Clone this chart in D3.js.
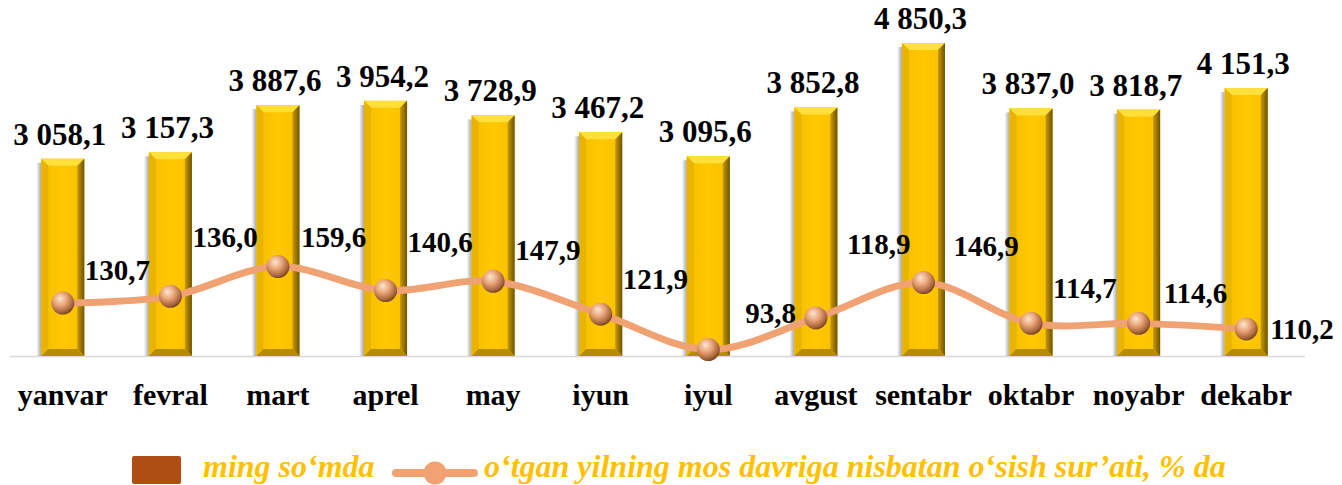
<!DOCTYPE html>
<html>
<head>
<meta charset="utf-8">
<script src="https://cdn.jsdelivr.net/npm/d3@7"></script>
</head>
<body style="margin:0">
<div id="chart"></div>
<script>
// data
var months = ["yanvar", "fevral", "mart", "aprel", "may", "iyun", "iyul", "avgust", "sentabr", "oktabr", "noyabr", "dekabr"];
var amounts = [3058.1, 3157.3, 3887.6, 3954.2, 3728.9, 3467.2, 3095.6, 3852.8, 4850.3, 3837.0, 3818.7, 4151.3];
var growth = [130.7, 136.0, 159.6, 140.6, 147.9, 121.9, 93.8, 118.9, 146.9, 114.7, 114.6, 110.2];
var legendBar = "ming so‘mda";
var legendLine = "o‘tgan yilning mos davriga nisbatan o‘sish sur’ati, % da";

// label nudges for the line labels (dx, dy from point)
var lineLabelPos = [[22, -23], [22, -49], [23, -20], [22, -39], [22, -21], [22, -25],
                    [37, -27], [31, -64], [30, -27], [22, -25], [25, -20], [24, 10]];

var svgWidth = 1342;
var svgHeight = 485;
var baseY = 356;
var serif = "Liberation Serif";

var fmt = function(v) {
  var s = v.toFixed(1).replace(".", ",");
  var parts = s.split(",");
  var intPart = parts[0].replace(/\B(?=(\d{3})+(?!\d))/g, " ");
  return intPart + "," + parts[1];
};

var svg = d3.select("#chart")
  .append("svg")
  .attr("width", svgWidth)
  .attr("height", svgHeight);

var defs = svg.append("defs");

var faceGrad = defs.append("linearGradient").attr("id", "face")
  .attr("x1", "0").attr("x2", "1").attr("y1", "0").attr("y2", "0");
faceGrad.append("stop").attr("offset", "0%").attr("stop-color", "#F5BE00");
faceGrad.append("stop").attr("offset", "50%").attr("stop-color", "#FFC800");
faceGrad.append("stop").attr("offset", "100%").attr("stop-color", "#F7C000");

var rightGrad = defs.append("linearGradient").attr("id", "rightEdge")
  .attr("x1", "0").attr("x2", "1").attr("y1", "0").attr("y2", "0");
rightGrad.append("stop").attr("offset", "0%").attr("stop-color", "#C99A00");
rightGrad.append("stop").attr("offset", "100%").attr("stop-color", "#6E5200");

var shadowGrad = defs.append("linearGradient").attr("id", "shadowGrad")
  .attr("x1", "0").attr("x2", "1").attr("y1", "0").attr("y2", "0");
shadowGrad.append("stop").attr("offset", "0%").attr("stop-color", "#000").attr("stop-opacity", 0);
shadowGrad.append("stop").attr("offset", "100%").attr("stop-color", "#000").attr("stop-opacity", 0.35);

var ball = defs.append("radialGradient").attr("id", "ball")
  .attr("cx", "40%").attr("cy", "35%").attr("r", "65%").attr("fx", "38%").attr("fy", "30%");
ball.append("stop").attr("offset", "0%").attr("stop-color", "#FCE6D2");
ball.append("stop").attr("offset", "45%").attr("stop-color", "#E9A476");
ball.append("stop").attr("offset", "85%").attr("stop-color", "#A8653C");
ball.append("stop").attr("offset", "100%").attr("stop-color", "#7A4526");

// scales
var xScale = d3.scaleBand()
  .domain(months)
  .range([9, 1300])
  .paddingInner(0.6)
  .paddingOuter(0.3);

var yScale = d3.scaleLinear()
  .domain([0, 5000])
  .range([baseY, baseY - 5000 * 0.06453]);

var y2Scale = d3.scaleLinear()
  .domain([0, 100])
  .range([468, 468 - 126.2]);

// x axis
var xAxis = d3.axisBottom(xScale).tickSize(0).tickPadding(0);
var axisG = svg.append("g")
  .attr("transform", `translate(0, ${baseY})`)
  .call(xAxis)
  .attr("font-family", serif)
  .attr("font-size", 30);
axisG.select(".domain").remove();
axisG.selectAll("text")
  .attr("class", "lbl")
  .attr("y", 49)
  .attr("dy", 0)
  .attr("font-weight", "bold")
  .attr("fill", "#000");

svg.append("line")
  .attr("x1", 10).attr("x2", 1305)
  .attr("y1", baseY + 0.5).attr("y2", baseY + 0.5)
  .attr("stroke", "#D9D9D9")
  .attr("stroke-width", 1.5);

// bars with bevel
var bw = xScale.bandwidth();
var bev = 7;
var barG = svg.selectAll(".bar")
  .data(amounts)
  .enter()
  .append("g")
  .attr("class", "bar");

// soft shadow strip on the left
barG.append("rect")
  .attr("x", (d, i) => xScale(months[i]) - 5)
  .attr("y", d => yScale(d) + 4)
  .attr("width", 5)
  .attr("height", d => baseY - yScale(d) - 4)
  .attr("fill", "url(#shadowGrad)");

barG.append("rect")
  .attr("x", (d, i) => xScale(months[i]))
  .attr("y", d => yScale(d))
  .attr("width", bw)
  .attr("height", d => baseY - yScale(d))
  .attr("fill", "url(#face)");

// top bevel
barG.append("polygon")
  .attr("points", function(d, i) {
    var x0 = xScale(months[i]), y0 = yScale(d);
    return [[x0, y0], [x0 + bw, y0], [x0 + bw - bev, y0 + bev], [x0 + bev, y0 + bev]].join(" ");
  })
  .attr("fill", "#FFE03A");
// left bevel
barG.append("polygon")
  .attr("points", function(d, i) {
    var x0 = xScale(months[i]), y0 = yScale(d);
    return [[x0, y0], [x0 + bev, y0 + bev], [x0 + bev, baseY - bev], [x0, baseY]].join(" ");
  })
  .attr("fill", "#E8B400");
// right bevel
barG.append("polygon")
  .attr("points", function(d, i) {
    var x0 = xScale(months[i]), y0 = yScale(d);
    return [[x0 + bw, y0], [x0 + bw, baseY], [x0 + bw - bev, baseY - bev], [x0 + bw - bev, y0 + bev]].join(" ");
  })
  .attr("fill", "url(#rightEdge)");
// bottom bevel
barG.append("polygon")
  .attr("points", function(d, i) {
    var x0 = xScale(months[i]);
    return [[x0, baseY], [x0 + bev, baseY - bev], [x0 + bw - bev, baseY - bev], [x0 + bw, baseY]].join(" ");
  })
  .attr("fill", "#B88C00");

// bar labels
svg.selectAll(".barLabel")
  .data(amounts)
  .enter()
  .append("text")
  .attr("class", "barLabel lbl")
  .attr("x", (d, i) => xScale(months[i]) + bw / 2 - 3)
  .attr("y", d => yScale(d) - 14)
  .attr("text-anchor", "middle")
  .attr("font-weight", "bold")
  .attr("font-size", 31)
  .attr("fill", "#000")
  .text(d => fmt(d));

// line
var cx = (d, i) => xScale(months[i]) + bw / 2;
var line = d3.line()
  .x(cx)
  .y(d => y2Scale(d))
  .curve(d3.curveCatmullRom.alpha(0.5));

svg.append("path")
  .datum(growth)
  .attr("d", line)
  .attr("fill", "none")
  .attr("stroke", "#F0A273")
  .attr("stroke-width", 7)
  .attr("stroke-linecap", "round");

svg.selectAll(".dot")
  .data(growth)
  .enter()
  .append("circle")
  .attr("class", "dot")
  .attr("cx", cx)
  .attr("cy", d => y2Scale(d))
  .attr("r", 11.5)
  .attr("fill", "url(#ball)");

svg.selectAll(".lineLabel")
  .data(growth)
  .enter()
  .append("text")
  .attr("class", "lineLabel lbl")
  .attr("x", (d, i) => cx(d, i) + lineLabelPos[i][0])
  .attr("y", (d, i) => y2Scale(d) + lineLabelPos[i][1])
  .attr("font-weight", "bold")
  .attr("font-size", 29)
  .attr("fill", "#000")
  .text(d => fmt(d));

// legend
var legend = svg.append("g");
legend.append("rect")
  .attr("x", 132).attr("y", 456)
  .attr("width", 49).attr("height", 28)
  .attr("rx", 2)
  .attr("fill", "#AE4E14");
legend.append("text")
  .attr("class", "lbl")
  .attr("x", 203).attr("y", 477)
  .attr("font-weight", "bold")
  .attr("font-style", "italic")
  .attr("font-size", 32)
  .attr("fill", "#FFC000")
  .text(legendBar);
legend.append("line")
  .attr("x1", 396).attr("x2", 474)
  .attr("y1", 473).attr("y2", 473)
  .attr("stroke", "#F0A273")
  .attr("stroke-width", 8)
  .attr("stroke-linecap", "round");
legend.append("circle")
  .attr("cx", 435).attr("cy", 473)
  .attr("r", 11.5)
  .attr("fill", "#F0A273");
legend.append("text")
  .attr("class", "lbl")
  .attr("x", 484).attr("y", 477)
  .attr("font-weight", "bold")
  .attr("font-style", "italic")
  .attr("font-size", 32)
  .attr("fill", "#FFC000")
  .text(legendLine);

// set the serif face on every label, and again once fonts report ready
function applyFont() {
  svg.selectAll(".lbl").attr("font-family", serif);
}
applyFont();
if (document.fonts && document.fonts.load) {
  document.fonts.load("bold 30px 'Liberation Serif'").then(applyFont);
  document.fonts.load("italic bold 30px 'Liberation Serif'").then(applyFont);
}
</script>
</body>
</html>
